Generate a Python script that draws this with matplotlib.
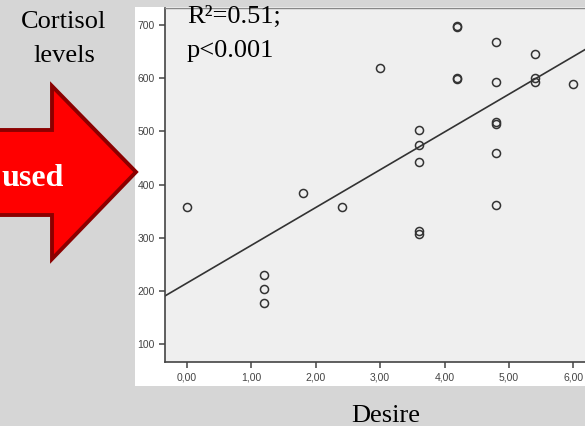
import matplotlib
matplotlib.use("Agg")
import matplotlib.pyplot as plt
from matplotlib.patches import Polygon, Rectangle
import numpy as np

# scatter data
desire = [0.0, 1.2, 1.2, 1.2, 1.8, 2.4, 3.0,
          3.6, 3.6, 3.6, 3.6, 3.6,
          4.2, 4.2, 4.2, 4.2,
          4.8, 4.8, 4.8, 4.8, 4.8, 4.8,
          5.4, 5.4, 5.4, 6.0]
cortisol = [357, 230, 203, 178, 384, 358, 620,
            502, 475, 443, 312, 308,
            699, 697, 601, 599,
            668, 593, 517, 513, 460, 361,
            645, 600, 592, 589]
fit_intercept = 215
fit_slope = 71

xticks = [0, 1, 2, 3, 4, 5, 6]
xticklabels = ["0,00", "1,00", "2,00", "3,00", "4,00", "5,00", "6,00"]
yticks = [100, 200, 300, 400, 500, 600, 700]

W, H = 585, 426
serif = "Liberation Serif"

fig = plt.figure(figsize=(W / 100, H / 100), dpi=100)
fig.patch.set_facecolor("#d6d6d6")
# white panel behind the SPSS chart
fig.patches.append(Rectangle((135 / W, (H - 386) / H), 460 / W, 379 / H,
                             transform=fig.transFigure, facecolor="white",
                             edgecolor="none", zorder=0))

# scatter plot
ax = fig.add_axes([165 / W, (H - 362) / H, (W - 165) / W, (362 - 8) / H], zorder=1)
ax.set_facecolor("#efefef")
ax.plot(desire, cortisol, linestyle="none", marker="o", markersize=5.8,
        markerfacecolor="none", markeredgecolor="#333333", markeredgewidth=1.1)

xs = np.array([-0.5, 6.5])
ax.plot(xs, fit_intercept + fit_slope * xs, color="#333333", linewidth=1.2)

ax.set_xlim(-0.342, 6.18)
ax.set_ylim(66.5, 732)
ax.set_xticks(xticks)
ax.set_xticklabels(xticklabels)
ax.set_yticks(yticks)
for s in ["left", "bottom"]:
    ax.spines[s].set_color("#444444")
    ax.spines[s].set_linewidth(1.2)
ax.spines["top"].set_color("#888888")
ax.spines["top"].set_linewidth(1.0)
ax.spines["right"].set_visible(False)
ax.tick_params(direction="out", length=4.5, width=1.1, color="#444444",
               labelsize=7.5, labelcolor="#444444", pad=3)
for lab in ax.get_xticklabels() + ax.get_yticklabels():
    lab.set_family("Liberation Sans")

# overlay in pixel coords for the slide decorations
bg = fig.add_axes([0, 0, 1, 1], zorder=2)
bg.set_xlim(0, W)
bg.set_ylim(H, 0)
bg.axis("off")

arrow = [(-10, 130), (52, 130), (52, 86), (136, 172), (52, 259), (52, 215), (-10, 215)]
bg.add_patch(Polygon(arrow, closed=True, facecolor="#ff0000", edgecolor="#8b0000",
                     linewidth=2.8, joinstyle="miter"))
bg.text(64, 178, "used", color="white", fontsize=23, fontweight="bold",
        family=serif, ha="right", va="center")

bg.text(64, 28, "Cortisol", fontsize=19, family=serif, ha="center", va="baseline")
bg.text(64, 62, "levels", fontsize=19, family=serif, ha="center", va="baseline")
bg.text(187, 23, "R²=0.51;", fontsize=19, family=serif, ha="left", va="baseline")
bg.text(187, 57, "p<0.001", fontsize=19, family=serif, ha="left", va="baseline")
bg.text(386, 422, "Desire", fontsize=19, family=serif, ha="center", va="baseline")

fig.savefig("out.png", dpi=100, facecolor=fig.get_facecolor())
